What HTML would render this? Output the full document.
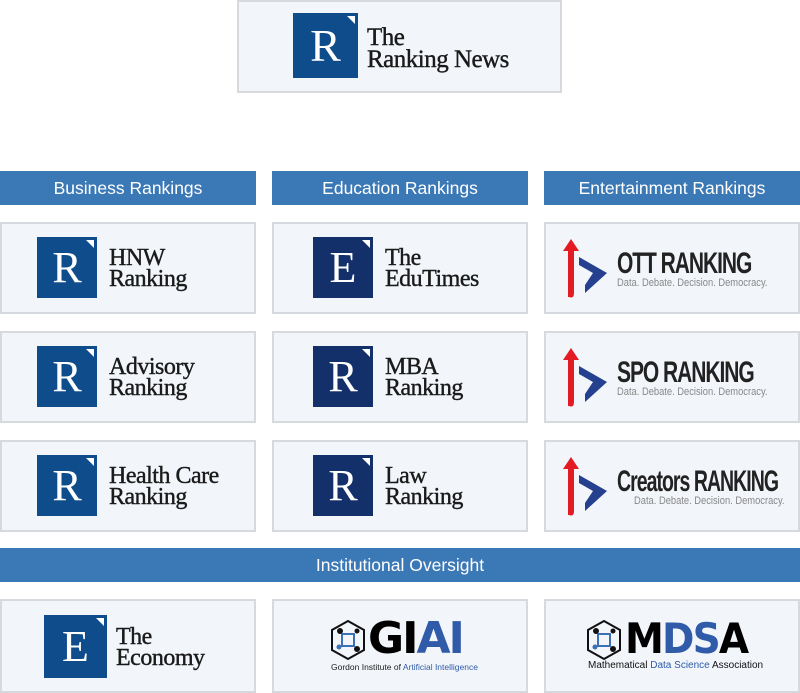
<!DOCTYPE html>
<html><head><meta charset="utf-8"><style>
body{margin:0;width:800px;height:693px;background:#fff;position:relative;overflow:hidden;font-family:"Liberation Sans",sans-serif}
.box{position:absolute;background:#f2f5fa;border:2px solid #d6dadf;box-sizing:border-box}
.hd{position:absolute;background:#3b78b6;color:#fff;font-size:17.5px;text-align:center;line-height:34px;height:34px}
.sq{position:absolute;width:60px;height:61px;background:#0f4c8c;color:#fff;font-family:"Liberation Serif",serif;font-size:44px;text-align:center;line-height:61px}
.sq.d{background:#13306a}
.sq:after{content:"";position:absolute;right:3px;top:3px;border-left:8px solid transparent;border-top:8px solid #fff}
.tx{position:absolute;font-family:"Liberation Serif",serif;font-size:24px;line-height:21px;color:#1a1a1a;letter-spacing:-0.5px;white-space:nowrap;-webkit-text-stroke:0.4px #1a1a1a}
.ent{position:absolute;font-family:"Liberation Sans",sans-serif;font-weight:bold;font-size:30px;color:#222;letter-spacing:-1.5px;transform:scaleX(0.72);transform-origin:left;line-height:28px;white-space:nowrap}
.tag{position:absolute;font-size:11px;color:#888;transform:scaleX(0.85);transform-origin:left;white-space:nowrap}
</style></head><body>
<div class="box" style="left:237px;top:0;width:325px;height:93px"></div>
<div class="sq" style="left:293px;top:13px;width:65px;height:65px;line-height:65px;font-size:46px">R</div>
<div class="tx" style="left:367px;top:27px;font-size:25px;line-height:22px">The<br>Ranking News</div>

<div class="hd" style="left:0;top:171px;width:256px">Business Rankings</div>
<div class="hd" style="left:272px;top:171px;width:256px">Education Rankings</div>
<div class="hd" style="left:544px;top:171px;width:256px">Entertainment Rankings</div>
<div class="hd" style="left:0;top:548px;width:800px">Institutional Oversight</div>

<div class="box" style="left:0;top:222px;width:256px;height:92px"></div>
<div class="box" style="left:0;top:331px;width:256px;height:92px"></div>
<div class="box" style="left:0;top:440px;width:256px;height:92px"></div>
<div class="box" style="left:272px;top:222px;width:256px;height:92px"></div>
<div class="box" style="left:272px;top:331px;width:256px;height:92px"></div>
<div class="box" style="left:272px;top:440px;width:256px;height:92px"></div>
<div class="box" style="left:544px;top:222px;width:256px;height:92px"></div>
<div class="box" style="left:544px;top:331px;width:256px;height:92px"></div>
<div class="box" style="left:544px;top:440px;width:256px;height:92px"></div>
<div class="box" style="left:0;top:599px;width:256px;height:94px"></div>
<div class="box" style="left:272px;top:599px;width:256px;height:94px"></div>
<div class="box" style="left:544px;top:599px;width:256px;height:94px"></div>

<div class="sq" style="left:37px;top:237px">R</div><div class="tx" style="left:109px;top:248px">HNW<br>Ranking</div>
<div class="sq" style="left:37px;top:346px">R</div><div class="tx" style="left:109px;top:357px">Advisory<br>Ranking</div>
<div class="sq" style="left:37px;top:455px">R</div><div class="tx" style="left:109px;top:466px">Health Care<br>Ranking</div>
<div class="sq d" style="left:313px;top:237px">E</div><div class="tx" style="left:385px;top:248px">The<br>EduTimes</div>
<div class="sq d" style="left:313px;top:346px">R</div><div class="tx" style="left:385px;top:357px">MBA<br>Ranking</div>
<div class="sq d" style="left:313px;top:455px">R</div><div class="tx" style="left:385px;top:466px">Law<br>Ranking</div>
<div class="sq" style="left:44px;top:615px;width:63px;height:63px;line-height:63px">E</div><div class="tx" style="left:116px;top:627px">The<br>Economy</div>

<svg width="0" height="0" style="position:absolute"><defs>
<g id="arr"><path d="M8 2 L16 14 L11 14 L11 56 Q11 62 6 60 L5 60 L5 14 L0 14 Z" fill="#e31b23"/><path d="M16 20 L44 36 L22 56 L22 48 L30 36 L16 28 Z" fill="#24408e"/></g>
<g id="hex"><path d="M17 1 L33 10 L33 30 L17 39 L1 30 L1 10 Z" fill="none" stroke="#111" stroke-width="2"/><rect x="11" y="14" width="12" height="12" fill="none" stroke="#3b6fb6" stroke-width="2"/><circle cx="9" cy="11" r="3" fill="#111"/><circle cx="26" cy="29" r="3" fill="#111"/><circle cx="8" cy="27" r="2.5" fill="#3b6fb6"/><circle cx="26" cy="11" r="2.5" fill="#111"/></g>
</defs></svg>
<svg style="position:absolute;left:563px;top:237px" width="48" height="64"><use href="#arr"/></svg>
<svg style="position:absolute;left:563px;top:346px" width="48" height="64"><use href="#arr"/></svg>
<svg style="position:absolute;left:563px;top:455px" width="48" height="64"><use href="#arr"/></svg>
<div class="ent" style="left:617px;top:250px;transform:scaleX(0.7)">OTT RANKING</div><div class="tag" style="left:617px;top:277px">Data. Debate. Decision. Democracy.</div>
<div class="ent" style="left:617px;top:359px;transform:scaleX(0.7)">SPO RANKING</div><div class="tag" style="left:617px;top:386px">Data. Debate. Decision. Democracy.</div>
<div class="ent" style="left:617px;top:468px;transform:scaleX(0.65)">Creators RANKING</div><div class="tag" style="left:634px;top:495px">Data. Debate. Decision. Democracy.</div>

<svg style="position:absolute;left:331px;top:620px" width="36" height="42"><use href="#hex"/></svg>
<div style="position:absolute;left:368px;top:617px;font-size:44px;font-weight:900;line-height:44px;letter-spacing:-2px;font-family:'DejaVu Sans',sans-serif"><span style="color:#000">GI</span><span style="color:#2f5ba8">AI</span></div>
<div style="position:absolute;left:331px;top:662px;font-size:8.5px;color:#222;white-space:nowrap">Gordon Institute of <span style="color:#2f5ba8">Artificial Intelligence</span></div>
<svg style="position:absolute;left:587px;top:620px" width="36" height="42"><use href="#hex"/></svg>
<div style="position:absolute;left:625px;top:617px;font-size:42px;font-weight:900;line-height:44px;letter-spacing:-2px;font-family:'DejaVu Sans',sans-serif;transform:scaleX(0.93);transform-origin:left"><span style="color:#000">M</span><span style="color:#2f5ba8">DS</span><span style="color:#000">A</span></div>
<div style="position:absolute;left:588px;top:660px;font-size:10px;color:#111;white-space:nowrap">Mathematical <span style="color:#2f5ba8">Data Science</span> Association</div>
</body></html>
